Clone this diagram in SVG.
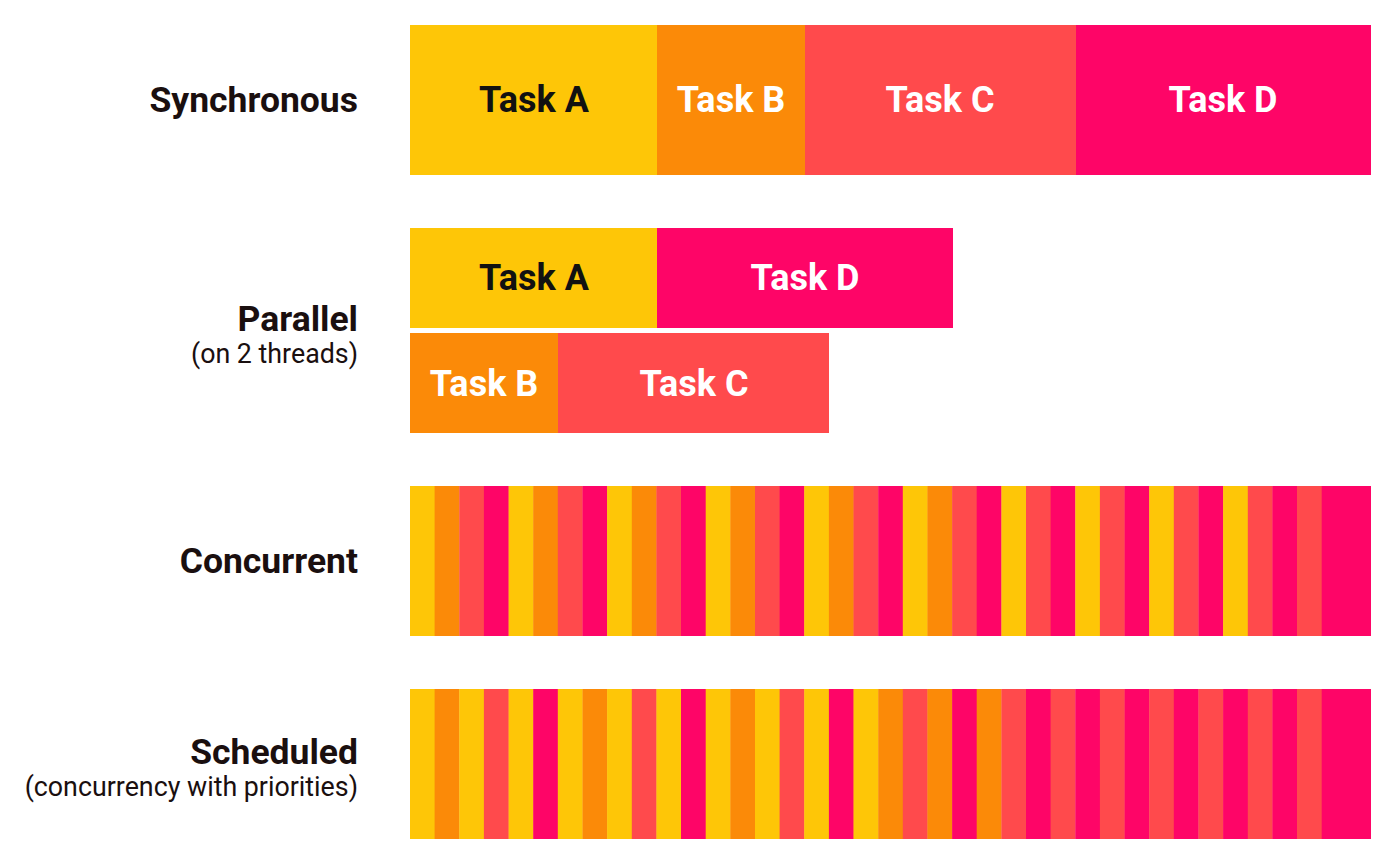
<svg xmlns="http://www.w3.org/2000/svg" width="1400" height="868" viewBox="0 0 1400 868">
<style>
.y{fill:#FEC607}.o{fill:#FB8A08}.c{fill:#FF4A4C}.p{fill:#FE0567}
.lbl{font-family:Roboto,"Liberation Sans",sans-serif;font-weight:700;font-size:35.5px;fill:#1a0f0f;text-anchor:end}
.sub{font-family:Roboto,"Liberation Sans",sans-serif;font-weight:400;font-size:26.8px;fill:#1a0f0f;text-anchor:end}
.tk{font-family:Roboto,"Liberation Sans",sans-serif;font-weight:700;font-size:36px;text-anchor:middle;fill:#fff}
.tk.dark{fill:#111}
</style>
<rect width="1400" height="868" fill="#fff"/>
<g id="labels">
<text class="lbl" x="358" y="112">Synchronous</text>
<text class="lbl" x="358" y="331">Parallel</text>
<text class="sub" x="358" y="363">(on 2 threads)</text>
<text class="lbl" x="358" y="573">Concurrent</text>
<text class="lbl" x="358" y="764">Scheduled</text>
<text class="sub" x="358" y="796">(concurrency with priorities)</text>
</g>
<g id="synchronous">
<rect class="y" x="410" y="25" width="247" height="150"/>
<rect class="o" x="657" y="25" width="148" height="150"/>
<rect class="c" x="805" y="25" width="271" height="150"/>
<rect class="p" x="1076" y="25" width="295" height="150"/>
<text class="tk dark" x="534" y="112">Task A</text>
<text class="tk" x="731" y="112">Task B</text>
<text class="tk" x="940" y="112">Task C</text>
<text class="tk" x="1223" y="112">Task D</text>
</g>
<g id="parallel">
<rect class="y" x="410" y="228" width="247" height="100"/>
<rect class="p" x="657" y="228" width="296" height="100"/>
<rect class="o" x="410" y="333" width="148" height="100"/>
<rect class="c" x="558" y="333" width="271" height="100"/>
<text class="tk dark" x="534" y="290">Task A</text>
<text class="tk" x="805" y="290">Task D</text>
<text class="tk" x="484" y="396">Task B</text>
<text class="tk" x="694" y="396">Task C</text>
</g>
<g id="concurrent">
<rect class="y" x="410" y="486" width="25" height="150"/>
<rect class="o" x="434.6" y="486" width="25" height="150"/>
<rect class="c" x="459.3" y="486" width="25" height="150"/>
<rect class="p" x="483.9" y="486" width="25" height="150"/>
<rect class="y" x="508.6" y="486" width="25" height="150"/>
<rect class="o" x="533.2" y="486" width="25" height="150"/>
<rect class="c" x="557.8" y="486" width="25" height="150"/>
<rect class="p" x="582.5" y="486" width="25" height="150"/>
<rect class="y" x="607.1" y="486" width="25" height="150"/>
<rect class="o" x="631.8" y="486" width="25" height="150"/>
<rect class="c" x="656.4" y="486" width="25" height="150"/>
<rect class="p" x="681.0" y="486" width="25" height="150"/>
<rect class="y" x="705.7" y="486" width="25" height="150"/>
<rect class="o" x="730.3" y="486" width="25" height="150"/>
<rect class="c" x="755.0" y="486" width="25" height="150"/>
<rect class="p" x="779.6" y="486" width="25" height="150"/>
<rect class="y" x="804.2" y="486" width="25" height="150"/>
<rect class="o" x="828.9" y="486" width="25" height="150"/>
<rect class="c" x="853.5" y="486" width="25" height="150"/>
<rect class="p" x="878.2" y="486" width="25" height="150"/>
<rect class="y" x="902.8" y="486" width="25" height="150"/>
<rect class="o" x="927.4" y="486" width="25" height="150"/>
<rect class="c" x="952.1" y="486" width="25" height="150"/>
<rect class="p" x="976.7" y="486" width="25" height="150"/>
<rect class="y" x="1001.4" y="486" width="25" height="150"/>
<rect class="c" x="1026.0" y="486" width="25" height="150"/>
<rect class="p" x="1050.6" y="486" width="25" height="150"/>
<rect class="y" x="1075.3" y="486" width="25" height="150"/>
<rect class="c" x="1099.9" y="486" width="25" height="150"/>
<rect class="p" x="1124.6" y="486" width="25" height="150"/>
<rect class="y" x="1149.2" y="486" width="25" height="150"/>
<rect class="c" x="1173.8" y="486" width="25" height="150"/>
<rect class="p" x="1198.5" y="486" width="25" height="150"/>
<rect class="y" x="1223.1" y="486" width="25" height="150"/>
<rect class="c" x="1247.8" y="486" width="25" height="150"/>
<rect class="p" x="1272.4" y="486" width="25" height="150"/>
<rect class="c" x="1297.0" y="486" width="25" height="150"/>
<rect class="p" x="1321.7" y="486" width="49.3" height="150"/>
</g>
<g id="scheduled">
<rect class="y" x="410" y="689" width="25" height="150"/>
<rect class="o" x="434.6" y="689" width="25" height="150"/>
<rect class="y" x="459.3" y="689" width="25" height="150"/>
<rect class="c" x="483.9" y="689" width="25" height="150"/>
<rect class="y" x="508.6" y="689" width="25" height="150"/>
<rect class="p" x="533.2" y="689" width="25" height="150"/>
<rect class="y" x="557.8" y="689" width="25" height="150"/>
<rect class="o" x="582.5" y="689" width="25" height="150"/>
<rect class="y" x="607.1" y="689" width="25" height="150"/>
<rect class="c" x="631.8" y="689" width="25" height="150"/>
<rect class="y" x="656.4" y="689" width="25" height="150"/>
<rect class="p" x="681.0" y="689" width="25" height="150"/>
<rect class="y" x="705.7" y="689" width="25" height="150"/>
<rect class="o" x="730.3" y="689" width="25" height="150"/>
<rect class="y" x="755.0" y="689" width="25" height="150"/>
<rect class="c" x="779.6" y="689" width="25" height="150"/>
<rect class="y" x="804.2" y="689" width="25" height="150"/>
<rect class="p" x="828.9" y="689" width="25" height="150"/>
<rect class="y" x="853.5" y="689" width="25" height="150"/>
<rect class="o" x="878.2" y="689" width="25" height="150"/>
<rect class="c" x="902.8" y="689" width="25" height="150"/>
<rect class="o" x="927.4" y="689" width="25" height="150"/>
<rect class="p" x="952.1" y="689" width="25" height="150"/>
<rect class="o" x="976.7" y="689" width="25" height="150"/>
<rect class="c" x="1001.4" y="689" width="25" height="150"/>
<rect class="p" x="1026.0" y="689" width="25" height="150"/>
<rect class="c" x="1050.6" y="689" width="25" height="150"/>
<rect class="p" x="1075.3" y="689" width="25" height="150"/>
<rect class="c" x="1099.9" y="689" width="25" height="150"/>
<rect class="p" x="1124.6" y="689" width="25" height="150"/>
<rect class="c" x="1149.2" y="689" width="25" height="150"/>
<rect class="p" x="1173.8" y="689" width="25" height="150"/>
<rect class="c" x="1198.5" y="689" width="25" height="150"/>
<rect class="p" x="1223.1" y="689" width="25" height="150"/>
<rect class="c" x="1247.8" y="689" width="25" height="150"/>
<rect class="p" x="1272.4" y="689" width="25" height="150"/>
<rect class="c" x="1297.0" y="689" width="25" height="150"/>
<rect class="p" x="1321.7" y="689" width="49.3" height="150"/>
</g>
</svg>
